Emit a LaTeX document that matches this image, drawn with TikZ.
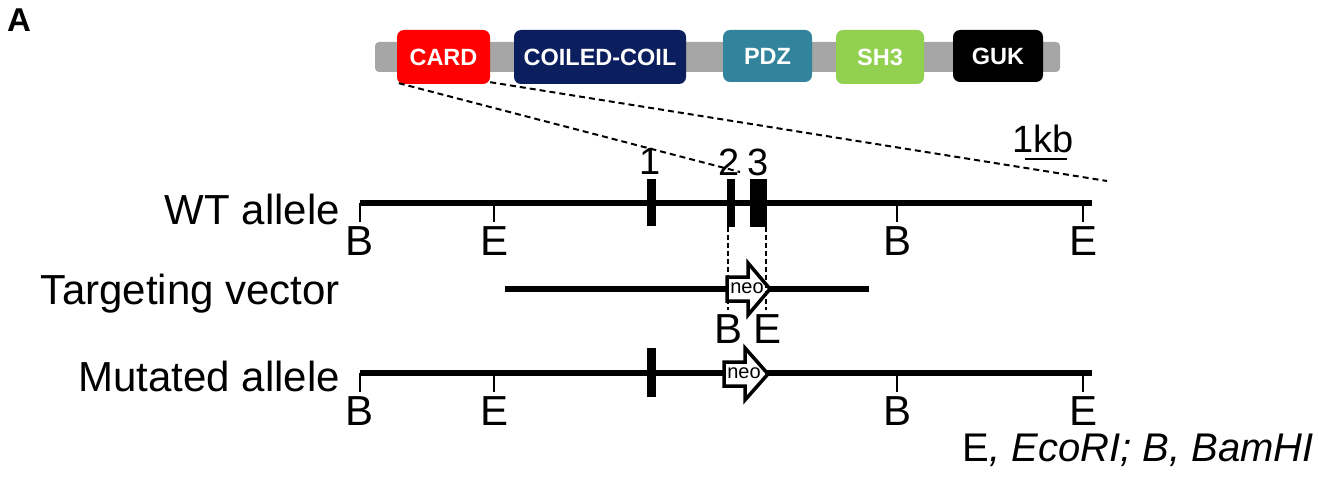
\documentclass[tikz,border=0pt]{standalone}
\usepackage{fontspec}
\setmainfont{Liberation Sans}
\definecolor{cardred}{HTML}{FF0000}
\definecolor{ccnavy}{HTML}{0B1F5E}
\definecolor{pdzteal}{HTML}{31849B}
\definecolor{shgreen}{HTML}{92D050}
\definecolor{bargray}{HTML}{A6A6A6}
\begin{document}
\begin{tikzpicture}[x=1pt,y=-1pt,
  dom/.style={rounded corners=7pt, minimum height=54pt, text=white, font=\fontsize{23.5}{25}\selectfont\bfseries, inner sep=0pt},
  lbl/.style={font=\fontsize{42}{46}\selectfont, inner sep=0pt},
  num/.style={font=\fontsize{38}{42}\selectfont, inner sep=0pt},
  dna/.style={line width=6pt},
  rtick/.style={line width=1.5pt},
  zoomline/.style={line width=2pt, dash pattern=on 6pt off 4pt},
  guide/.style={line width=1.2pt, dash pattern=on 5pt off 3pt},
  neoarr/.style={draw=black, fill=white, line width=3.5pt, line join=miter},
  neotxt/.style={font=\fontsize{20}{21}\selectfont, inner sep=0pt}
]
\useasboundingbox (0,0) rectangle (1319,481);

% panel letter
\node[anchor=base west, inner sep=0pt, font=\fontsize{33}{35}\selectfont\bfseries] (panel) at (7,32) {A};

% protein bar
\fill[bargray, rounded corners=4pt] (375,42) rectangle (1060,72);
\node[dom, fill=cardred, minimum width=93pt] (card) at (443.5,57) {CARD};
\node[dom, fill=ccnavy, minimum width=172pt] (coil) at (600,57) {COILED-COIL};
\node[dom, fill=pdzteal, minimum width=89pt, minimum height=52pt] (pdz) at (767.5,56) {PDZ};
\node[dom, fill=shgreen, minimum width=88pt] (sh3) at (880,57) {SH3};
\node[dom, fill=black, minimum width=90pt, minimum height=52pt] (guk) at (998,56) {GUK};

% zoom lines
\coordinate (zl1) at (740,172);
\coordinate (zl2) at (1107,181);
\draw[zoomline] (card.south west) ++(2,-1) -- (zl1);
\draw[zoomline] (card.south east) ++(0,-2) -- (zl2);

% scale
\node[num, anchor=base west] (kb) at (1012,153) {1kb};
\coordinate (sb1) at (1025,159);
\coordinate (sb2) at (1067,159);
\draw[line width=1.5pt] (sb1) -- (sb2);

% row labels
\node[lbl, anchor=base east] (wtlab) at (340,225) {WT allele};
\node[lbl, anchor=base east] (tvlab) at (340,304) {Targeting vector};
\node[lbl, anchor=base east] (mulab) at (340,391) {Mutated allele};

% WT allele
\coordinate (wt1) at (360,203);
\coordinate (wt2) at (1092,203);
\draw[dna] (wt1) -- (wt2);
\foreach \x/\l [count=\i] in {360/B,494/E,897/B,1083/E}{
  \draw[rtick] (\x,203) -- (\x,222);
  \node[lbl, anchor=base] (wtre\i) at (\x,255) {\l};
}
\fill (646.5,179) rectangle (655.5,226);
\fill (727,179) rectangle (735,227);
\fill (750,179) rectangle (767,227);
\node[num, anchor=base] (ex1) at (650,175) {1};
\node[num, anchor=base] (ex2) at (729,176) {2};
\node[num, anchor=base] (ex3) at (758,176) {3};

% targeting vector
\coordinate (tv1) at (505,289);
\coordinate (tv2) at (869,289);
\draw[dna] (tv1) -- (tv2);
\draw[neoarr] (727,277) -- (748,277) -- (748,263) -- (770,289) -- (748,315) -- (748,301) -- (727,301) -- cycle;
\node[neotxt] (neo1) at (747,288) {neo};
\coordinate (g1a) at (728,227);
\coordinate (g1b) at (728,310);
\coordinate (g2a) at (766,227);
\coordinate (g2b) at (766,310);
\draw[guide] (g1a) -- (g1b);
\draw[guide] (g2a) -- (g2b);
\node[lbl, anchor=base] (tvB) at (728,343) {B};
\node[lbl, anchor=base] (tvE) at (767,343) {E};

% mutated allele
\coordinate (mu1) at (360,373);
\coordinate (mu2) at (1092,373);
\draw[dna] (mu1) -- (mu2);
\foreach \x/\l [count=\i] in {360/B,494/E,897/B,1083/E}{
  \draw[rtick] (\x,373) -- (\x,392);
  \node[lbl, anchor=base] (mure\i) at (\x,425) {\l};
}
\fill (646.5,348) rectangle (655.5,397);
\draw[neoarr] (724,362) -- (745,362) -- (745,348) -- (768,374) -- (745,400) -- (745,386) -- (724,386) -- cycle;
\node[neotxt] (neo2) at (744,373) {neo};

% legend
\node[font=\fontsize{40}{44}\selectfont, inner sep=0pt, anchor=base east] (legend) at (1314,461) {E\textit{, EcoRI; B, BamHI}};
\end{tikzpicture}
\end{document}
